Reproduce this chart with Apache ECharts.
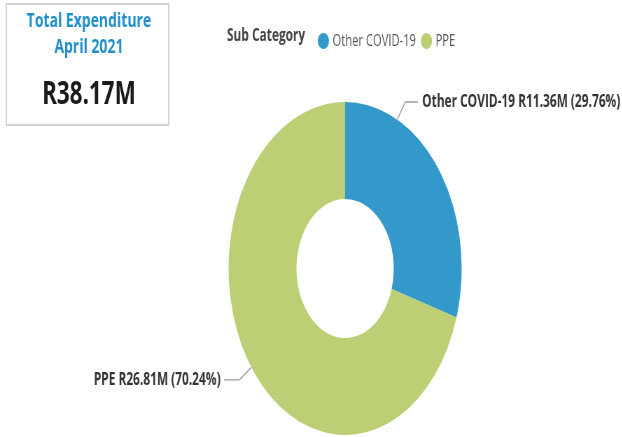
<!DOCTYPE html>
<html>
<head>
<meta charset="utf-8">
<script src="https://cdn.jsdelivr.net/npm/echarts@6/dist/echarts.min.js"></script>
<style>
html,body{margin:0;padding:0;background:#fff;overflow:hidden;width:622px;height:437px;}
#chart{width:889px;height:437px;transform:scaleX(0.7);transform-origin:0 0;}
</style>
</head>
<body>
<div id="chart"></div>
<script>
// Data
const categories = ['Other COVID-19', 'PPE'];
const valuesM = [11.36, 26.81];
const percents = ['29.76%', '70.24%'];
const colors = ['#3399CB', '#BCCF75'];
const cardTitle = ['Total Expenditure', 'April 2021'];
const cardValue = 'R38.17M';
const legendTitle = 'Sub Category';

// layout (in unscaled coordinates; page compresses horizontally by 0.7)
const CX = 493, CY = 268.5, R_IN = 69.5, R_OUT = 166.5;
const FONT = "'Open Sans', 'Noto Sans', sans-serif";

const chart = echarts.init(document.getElementById('chart'));

function blueLayout(params) {
  if (params.dataIndex !== 0) return {};
  const a = 26.6 * Math.PI / 180;
  const sx = CX + R_OUT * Math.sin(a), sy = CY - R_OUT * Math.cos(a);
  const by = 102;
  return {
    x: 603, y: by, align: 'left', verticalAlign: 'middle',
    labelLinePoints: [[sx, sy], [579, by], [597, by]]
  };
}

chart.setOption({
  animation: false,
  color: colors,
  legend: {
    left: 449, top: 28,
    icon: 'circle', itemWidth: 16, itemHeight: 16, itemGap: 7,
    textStyle: { fontFamily: FONT, fontSize: 16, color: '#555' },
    data: categories
  },
  graphic: [
    { type: 'rect', shape: { x: 9, y: 4, width: 232, height: 121 },
      style: { fill: '#fff', stroke: '#d2d2d2', lineWidth: 2 } },
    { type: 'text', x: 127, y: 21, style: { text: cardTitle[0], align: 'center', verticalAlign: 'middle',
      font: "bold 20px " + FONT, fill: '#1F8FCC' } },
    { type: 'text', x: 127, y: 47, style: { text: cardTitle[1], align: 'center', verticalAlign: 'middle',
      font: "bold 20px " + FONT, fill: '#1F8FCC' } },
    { type: 'text', x: 127, y: 95, style: { text: cardValue, align: 'center', verticalAlign: 'middle',
      font: "bold 32px " + FONT, fill: '#1a1a1a' } },
    { type: 'text', x: 436, y: 36, style: { text: legendTitle, align: 'right', verticalAlign: 'middle',
      font: "bold 17px " + FONT, fill: '#444' } }
  ],
  series: [{
    type: 'pie',
    center: [CX, CY],
    radius: [R_IN, R_OUT],
    startAngle: 90,
    clockwise: true,
    avoidLabelOverlap: false,
    label: {
      show: true, position: 'outside',
      fontFamily: FONT, fontSize: 17, fontWeight: 'bold', color: '#333',
      formatter: p => p.name + ' R' + valuesM[p.dataIndex].toFixed(2) + 'M (' + percents[p.dataIndex] + ')'
    },
    labelLine: { show: true, length: 21, length2: 22, lineStyle: { color: '#999', width: 1.3 } },
    labelLayout: blueLayout,
    data: categories.map((c, i) => ({ name: c, value: valuesM[i] }))
  }]
});
</script>
</body>
</html>
